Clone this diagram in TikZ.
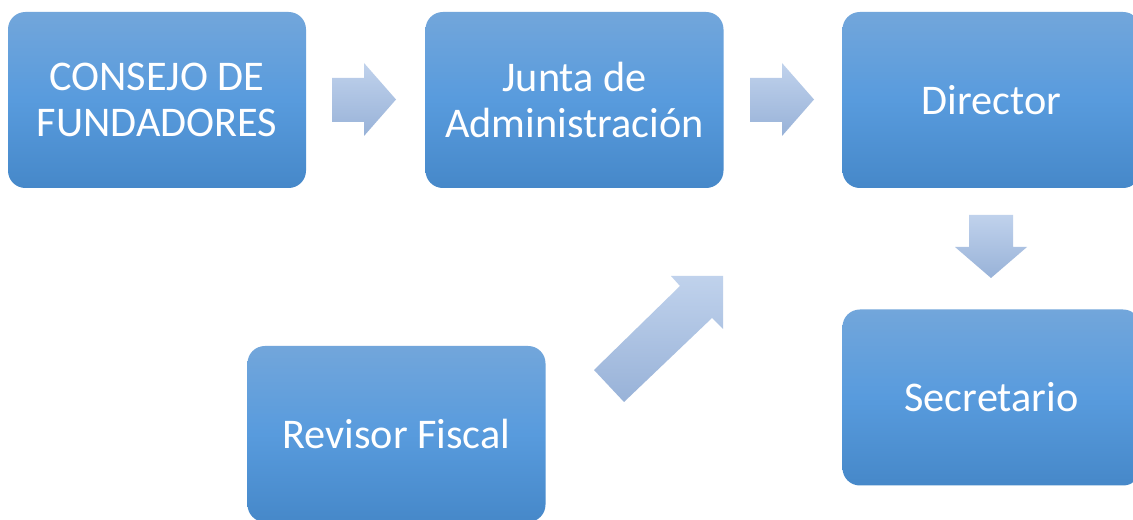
\documentclass[tikz,border=0pt]{standalone}
\usepackage{fontspec}
\setmainfont{Carlito}
\definecolor{boxtop}{RGB}{114,166,219}
\definecolor{boxmid}{RGB}{88,155,221}
\definecolor{boxbot}{RGB}{70,136,201}
\definecolor{arrtop}{RGB}{192,210,236}
\definecolor{arrbot}{RGB}{152,178,216}
\begin{document}
\begin{tikzpicture}[x=0.75pt,y=-0.75pt]
\tikzset{
  box/.style={rectangle, rounded corners=13pt, minimum width=223.5pt, minimum height=132pt,
    top color=boxtop, bottom color=boxbot, middle color=boxmid, text=white,
    font=\fontsize{31.7}{35}\selectfont, align=center, inner sep=0pt},
  blockarrow/.style={top color=arrtop, bottom color=arrbot, draw=none}
}
\useasboundingbox (0,0) rectangle (1133,520);
\fill[white] (0,0) rectangle (1133,520);
\node[box] (consejo) at (157,100) {CONSEJO DE\\FUNDADORES};
\node[box] (junta) at (574.5,100) {Junta de\\Administración};
\node[box] (director) at (991.5,100) {Director};
\node[box] (secretario) at (991.5,397.5) {Secretario};
\node[box] (revisor) at (396.5,434) {Revisor Fiscal};
% block arrows
\path[blockarrow] (332,78) -- (364,78) -- (364,63) -- (396,99.5) -- (364,136) -- (364,122) -- (332,122) -- cycle;
\path[blockarrow] (750,78) -- (782,78) -- (782,63) -- (814,99.5) -- (782,136) -- (782,122) -- (750,122) -- cycle;
\path[blockarrow] (969,215) -- (1013,215) -- (1013,247) -- (1027,247) -- (991,278) -- (955,247) -- (969,247) -- cycle;
\path[blockarrow] (594,370) -- (680,286) -- (671,276) -- (723,276) -- (723,329) -- (712,318) -- (624,402) -- cycle;
\end{tikzpicture}
\end{document}
